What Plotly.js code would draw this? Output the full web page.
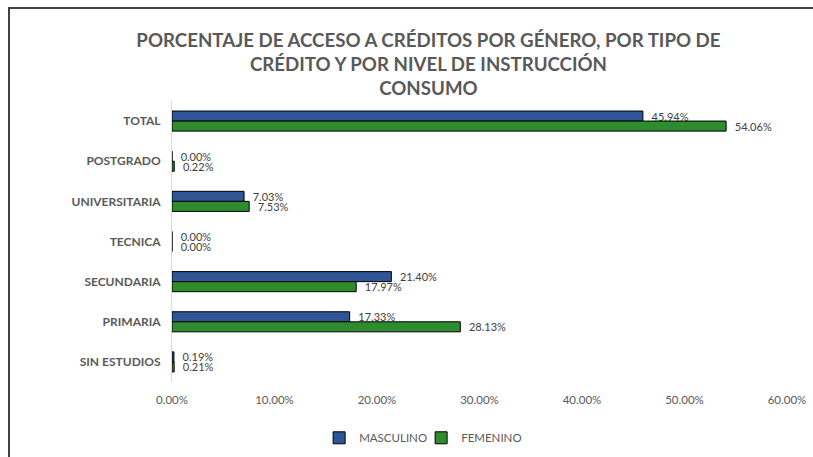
<!DOCTYPE html>
<html><head><meta charset="utf-8">
<script src="https://cdn.plot.ly/plotly-3.0.1.min.js"></script>
<style>
html,body{margin:0;padding:0;background:#fff;overflow:hidden;}
#chart{width:813px;height:457px;}
</style></head>
<body><div id="chart"></div>
<script>
const categories = ["TOTAL", "POSTGRADO", "UNIVERSITARIA", "TECNICA", "SECUNDARIA", "PRIMARIA", "SIN ESTUDIOS"];
const masculino = [45.94, 0.00, 7.03, 0.00, 21.40, 17.33, 0.19];
const femenino  = [54.06, 0.22, 7.53, 0.00, 17.97, 28.13, 0.21];
const xTicks = [0, 10, 20, 30, 40, 50, 60];
const xTickLabels = ["0.00%", "10.00%", "20.00%", "30.00%", "40.00%", "50.00%", "60.00%"];

const fmt = v => v.toFixed(2) + "%";
const labelFont = {family: "Lato, 'Open Sans', sans-serif", size: 11, color: "#404040"};

const traces = [
  {type: "bar", orientation: "h", name: "MASCULINO", y: categories, x: masculino,
   marker: {color: "#2F5597", line: {color: "#000000", width: 1}},
   text: masculino.map(fmt), texttemplate: "\u00a0\u00a0%{text}", textposition: "outside", textfont: labelFont,
   constraintext: "none", cliponaxis: false, hoverinfo: "x+name"},
  {type: "bar", orientation: "h", name: "FEMENINO", y: categories, x: femenino,
   marker: {color: "#2E8B2E", line: {color: "#000000", width: 1}},
   text: femenino.map(fmt), texttemplate: "\u00a0\u00a0%{text}", textposition: "outside", textfont: labelFont,
   constraintext: "none", cliponaxis: false, hoverinfo: "x+name"}
];

// outer frame (left and top edges of the chart box), in paper units
const pw = 813 - 172 - 26, ph = 457 - 101 - 75;
const px = v => (v - 172) / pw;
const py = v => (457 - 75 - v) / ph;

const layout = {
  width: 813, height: 457,
  margin: {l: 172, r: 26, t: 101, b: 75},
  paper_bgcolor: "#ffffff", plot_bgcolor: "#ffffff",
  font: {family: "Lato, 'Open Sans', sans-serif", color: "#595959"},
  title: {
    text: "<b>PORCENTAJE DE ACCESO A CRÉDITOS POR GÉNERO, POR TIPO DE<br>CRÉDITO Y POR NIVEL DE INSTRUCCIÓN<br>CONSUMO</b>",
    font: {family: "Lato, 'Open Sans', sans-serif", size: 18.7, color: "#595959"},
    x: 0.527, xanchor: "center", xref: "container",
    y: 0.898, yanchor: "top", yref: "container"
  },
  barmode: "group", bargap: 0.5, bargroupgap: 0,
  xaxis: {range: [0, 60], tickvals: xTicks, ticktext: xTickLabels,
          showgrid: false, zeroline: false, showline: false, ticks: "",
          ticklabelstandoff: 9, automargin: false,
          tickfont: {size: 11.5, color: "#595959"}, fixedrange: true},
  yaxis: {autorange: "reversed", showgrid: false, zeroline: false,
          showline: true, linecolor: "#d9d9d9", linewidth: 1, ticks: "",
          ticklabelstandoff: 8, automargin: false,
          tickfont: {size: 12, color: "#595959", family: "Lato, 'Open Sans', sans-serif", weight: "bold"}, fixedrange: true},
  legend: {orientation: "h", xref: "container", x: 0.518, xanchor: "center",
           yref: "container", y: 0.042, yanchor: "middle",
           font: {size: 11.5, color: "#595959"}, itemwidth: 30, traceorder: "normal",
           entrywidth: 57, entrywidthmode: "pixels"},
  shapes: [
    {type: "line", xref: "paper", yref: "paper", x0: px(9), x1: px(9), y0: py(8), y1: py(460),
     line: {color: "#404040", width: 2}},
    {type: "line", xref: "paper", yref: "paper", x0: px(8), x1: px(820), y0: py(8), y1: py(8),
     line: {color: "#404040", width: 2}}
  ],
  showlegend: true
};

Plotly.newPlot("chart", traces, layout, {displayModeBar: false, staticPlot: true});
</script></body></html>
